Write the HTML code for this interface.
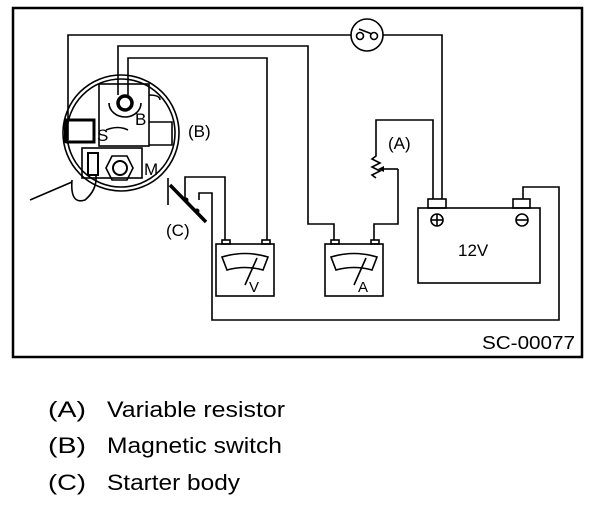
<!DOCTYPE html>
<html><head><style>
html,body{margin:0;padding:0;background:#fff;}
svg{display:block;}
text{font-family:"Liberation Sans",sans-serif;fill:#000;}
</style></head><body>
<svg width="608" height="510" viewBox="0 0 608 510" xmlns="http://www.w3.org/2000/svg">
<rect x="13" y="8" width="569" height="349" fill="none" stroke="#000" stroke-width="2.5"/>
<g fill="none" stroke="#000" stroke-width="1.6">
<polyline points="68,140 68,35 442,35 442,199"/>
<circle cx="367" cy="35" r="16" fill="#fff"/>
<circle cx="360" cy="36" r="3.5"/><circle cx="374" cy="36" r="3.5"/>
<line x1="359" y1="29" x2="372" y2="34"/>
<polyline points="118,95 118,46 308,46 308,224 334,224 334,240"/>
<polyline points="128,95 128,58 267,58 267,240"/>
<polyline points="433,199 433,120 376,120 376,156 372,159 380,163 372,167 380,171 372,175 376,178"/>
<polyline points="398,169 398,224 374,224 374,240"/>
<line x1="398" y1="169" x2="384" y2="169"/>
<polyline points="225,240 225,177 185,177 185,200"/>
<polyline points="199,200 199,193 212,193 212,320 559,320 559,187 523,187 523,199"/>
<rect x="216" y="244" width="58" height="52"/>
<rect x="325" y="244" width="58" height="52"/>
<rect x="418" y="208" width="122" height="75"/>
<rect x="428" y="199" width="18" height="9"/>
<rect x="513" y="199" width="17" height="9"/>
<circle cx="437" cy="220" r="6"/><line x1="431" y1="220" x2="443" y2="220"/><line x1="437" y1="214" x2="437" y2="226"/>
<circle cx="522" cy="220" r="6"/><line x1="516" y1="220" x2="528" y2="220"/>
<path d="M222 257 Q245 250 268 257 L263 270 Q245 265 227 270 Z"/>
<line x1="245" y1="285" x2="257" y2="258"/>
<path d="M331 257 Q354 250 377 257 L372 270 Q354 265 336 270 Z"/>
<line x1="354" y1="285" x2="366" y2="258"/>
<rect x="222" y="240" width="8" height="4"/><rect x="262" y="240" width="8" height="4"/>
<rect x="331" y="240" width="8" height="4"/><rect x="371" y="240" width="8" height="4"/>
<circle cx="121" cy="133" r="58"/>
<circle cx="121" cy="133" r="54"/>
<rect x="99" y="84" width="50" height="62"/>
<rect x="82" y="148" width="60" height="30"/>
<path d="M149 122 L172 122 L172 145 L149 145"/>
<path d="M149 95 Q160 95 160 100"/>
<line x1="30" y1="200" x2="72" y2="182"/>
<path d="M72 180 Q70 205 85 200 Q97 190 96 176"/>
<line x1="168" y1="178" x2="168" y2="205"/>
</g>
<g fill="none" stroke="#000">
<rect x="67" y="120" width="27" height="22" stroke-width="3"/>
<line x1="65" y1="119" x2="65" y2="143" stroke-width="2"/>
<rect x="88" y="153" width="10" height="22" stroke-width="2"/>
<circle cx="125" cy="103" r="7" stroke-width="3.5"/>
<path d="M109 103 A16 14 0 0 0 141 103" stroke-width="1.6"/>
<path d="M106 130 Q118 125 128 130" stroke-width="1.6"/>
<polygon points="106,168 112,156 127,156 133,168 127,180 112,180" stroke-width="1.6"/>
<circle cx="120" cy="168" r="7" stroke-width="2"/>
<line x1="170" y1="185" x2="206" y2="222" stroke-width="3.5"/>
</g>
<polygon points="384,166 378,169 384,172" fill="#000"/>
<circle cx="186" cy="200" r="2.5" fill="#000"/><circle cx="197" cy="211" r="2.5" fill="#000"/>
<g font-size="17">
<text x="135" y="125">B</text>
<text x="97" y="141">S</text>
<text x="144" y="175">M</text>
<text x="188" y="137">(B)</text>
<text x="166" y="236">(C)</text>
<text x="388" y="149">(A)</text>
<text x="458" y="256">12V</text>
<text x="249" y="292" font-size="15">V</text>
<text x="358" y="292" font-size="15">A</text>
<text x="482" y="349" font-size="18" textLength="93" lengthAdjust="spacingAndGlyphs">SC-00077</text>
</g>
<g font-size="22">
<text x="48" y="417" textLength="38" lengthAdjust="spacingAndGlyphs">(A)</text><text x="107" y="417" textLength="178" lengthAdjust="spacingAndGlyphs">Variable resistor</text>
<text x="48" y="453" textLength="38" lengthAdjust="spacingAndGlyphs">(B)</text><text x="107" y="453" textLength="175" lengthAdjust="spacingAndGlyphs">Magnetic switch</text>
<text x="48" y="490" textLength="38" lengthAdjust="spacingAndGlyphs">(C)</text><text x="107" y="490" textLength="133" lengthAdjust="spacingAndGlyphs">Starter body</text>
</g>
</svg>
</body></html>
